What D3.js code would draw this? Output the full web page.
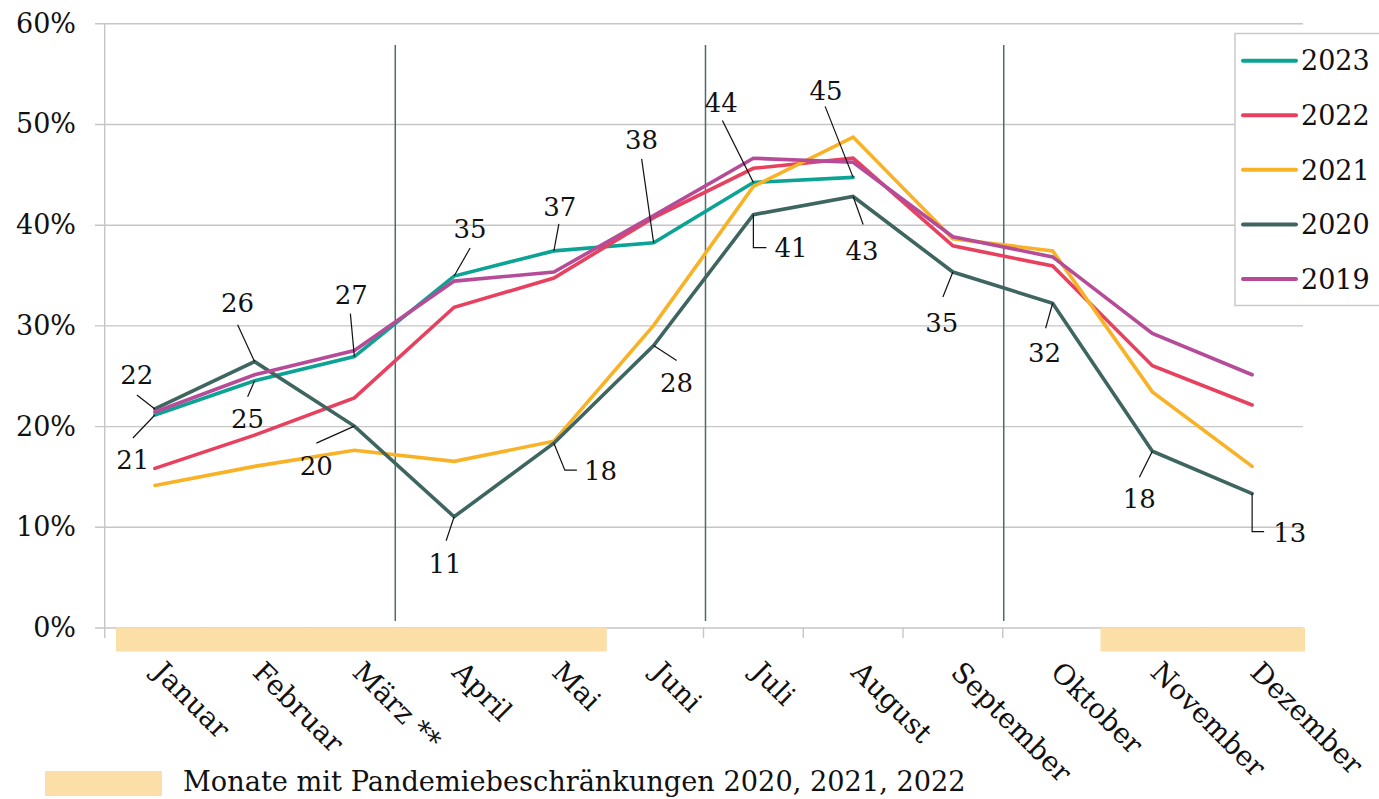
<!DOCTYPE html>
<html>
<head>
<meta charset="utf-8">
<script src="https://cdn.jsdelivr.net/npm/d3@7"></script>
<style>
  body { margin: 0; background: #fff; }
  text { font-family: "DejaVu Serif", serif; fill: #111; }
</style>
</head>
<body>
<div id="chart"></div>
<script>
// months on the x axis
var months = ["Januar", "Februar", "März **", "April", "Mai", "Juni", "Juli",
    "August", "September", "Oktober", "November", "Dezember"];
var years = ["2023", "2022", "2021", "2020", "2019"];
var yTicks = [0, 10, 20, 30, 40, 50, 60];

// values in percent, one array per year
var v2023 = [21.1, 24.5, 26.9, 34.9, 37.4, 38.2, 44.2, 44.7];
var v2022 = [15.8, 19.1, 22.8, 31.8, 34.7, 40.7, 45.6, 46.6, 37.9, 35.9, 26.0, 22.1];
var v2021 = [14.1, 16.0, 17.6, 16.5, 18.5, 30.0, 43.8, 48.7, 38.6, 37.4, 23.4, 16.0];
var v2020 = [21.7, 26.4, 20.0, 11.0, 18.3, 28.0, 41.0, 42.8, 35.3, 32.2, 17.5, 13.3];
var v2019 = [21.4, 25.1, 27.5, 34.4, 35.3, 40.9, 46.6, 46.2, 38.8, 36.8, 29.2, 25.1];

// months with pandemic restrictions (first, last month of each block)
var restricted = [["Januar", "Mai"], ["November", "Dezember"]];
// vertical separators, in month index units
var separators = [2.41, 5.52, 8.51];

// value labels: year, month index, text
var labelYears = ["2020", "2023", "2020", "2023", "2023", "2020", "2023", "2023", "2023", "2023",
    "2023", "2020", "2020", "2020", "2020", "2020", "2020", "2020", "2020", "2020"];
var labelMonths = [0, 0, 1, 1, 2, 2, 3, 4, 5, 6, 7, 7, 6, 5, 4, 3, 8, 9, 10, 11];
var labelTexts = ["22", "21", "26", "25", "27", "20", "35", "37", "38", "44",
    "45", "43", "41", "28", "18", "11", "35", "32", "18", "13"];

// layout of the labels: leader path offsets and text offset
var labelLayout = [
    { path: [[-18, -14]], tx: -18, ty: -25, anchor: "middle" },
    { path: [[-22, 23]], tx: -22, ty: 54, anchor: "middle" },
    { path: [[-17, -37]], tx: -17, ty: -50, anchor: "middle" },
    { path: [[-7, 16]], tx: -7, ty: 47, anchor: "middle" },
    { path: [[-4, -43]], tx: -3, ty: -53, anchor: "middle" },
    { path: [[-38, 17]], tx: -38, ty: 49, anchor: "middle" },
    { path: [[16, -28]], tx: 16, ty: -38, anchor: "middle" },
    { path: [[5, -27]], tx: 6, ty: -35, anchor: "middle" },
    { path: [[-12, -84]], tx: -12, ty: -94, anchor: "middle" },
    { path: [[-31, -62]], tx: -32, ty: -70, anchor: "middle" },
    { path: [[-28, -71]], tx: -27, ty: -77, anchor: "middle" },
    { path: [[10, 28]], tx: 9, ty: 63, anchor: "middle" },
    { path: [[0, 33], [13, 33]], tx: 21, ty: 42, anchor: "start" },
    { path: [[23, 15]], tx: 23, ty: 46, anchor: "middle" },
    { path: [[11, 27], [23, 27]], tx: 30, ty: 37, anchor: "start" },
    { path: [[-8, 24]], tx: -9, ty: 56, anchor: "middle" },
    { path: [[-10, 25]], tx: -11, ty: 60, anchor: "middle" },
    { path: [[-7, 25]], tx: -8, ty: 59, anchor: "middle" },
    { path: [[-13, 26]], tx: -13, ty: 57, anchor: "middle" },
    { path: [[0, 38], [12, 38]], tx: 21, ty: 48, anchor: "start" }
];

var colors = { "2023": "#0ba394", "2022": "#e8415f", "2021": "#f9b225", "2020": "#3e6560", "2019": "#b64b98" };

var seriesData = { "2023": v2023, "2022": v2022, "2021": v2021, "2020": v2020, "2019": v2019 };

var w = 1379, h = 799;

var svg = d3.select("#chart").append("svg")
    .attr("width", w)
    .attr("height", h);

var xScale = d3.scaleBand()
    .domain(months)
    .range([105, 1302]);
var step = xScale.step();
var xc = function(m) { return xScale(m) + xScale.bandwidth() / 2; };

var yScale = d3.scaleLinear()
    .domain([0, 60])
    .range([627.5, 23.3]);

// gridlines
var grid = svg.append("g")
    .attr("transform", "translate(95,0)")
    .call(d3.axisRight(yScale).tickValues(yTicks).tickSize(1208).tickFormat(""));
grid.select(".domain").remove();
grid.selectAll("line").attr("stroke", "#c6c6c6").attr("stroke-width", 1.4);

// y axis line
svg.append("line")
    .attr("x1", 104.7).attr("x2", 104.7)
    .attr("y1", yScale(60)).attr("y2", 638)
    .attr("stroke", "#c6c6c6").attr("stroke-width", 1.4);

// month boundary ticks
svg.selectAll(".mtick")
    .data(months.slice(1))
    .enter().append("line")
    .attr("class", "mtick")
    .attr("x1", function(d) { return xScale(d); })
    .attr("x2", function(d) { return xScale(d); })
    .attr("y1", yScale(0)).attr("y2", 638)
    .attr("stroke", "#c6c6c6").attr("stroke-width", 1.4);

// y tick labels
var yAxis = svg.append("g")
    .attr("transform", "translate(76,0)")
    .call(d3.axisLeft(yScale).tickValues(yTicks).tickSize(0).tickPadding(0)
        .tickFormat(function(d) { return d + "%"; }));
yAxis.select(".domain").remove();
yAxis.selectAll("text")
    .attr("font-family", "DejaVu Serif")
    .attr("font-size", "27px")
    .attr("fill", "#111")
    .attr("dy", "0.33em");

// restriction bands
var bandLeft = function(d) { return Math.max(xScale(d[0]) - 2, 116); };
svg.selectAll(".restr")
    .data(restricted)
    .enter().append("rect")
    .attr("class", "restr")
    .attr("x", bandLeft)
    .attr("width", function(d) { return xScale(d[1]) + xScale.bandwidth() + 3 - bandLeft(d); })
    .attr("y", yScale(0))
    .attr("height", 24)
    .attr("fill", "#fcdfa6");

// vertical separators
svg.selectAll(".sep")
    .data(separators)
    .enter().append("line")
    .attr("class", "sep")
    .attr("x1", function(d) { return xc(months[0]) + d * step; })
    .attr("x2", function(d) { return xc(months[0]) + d * step; })
    .attr("y1", 45).attr("y2", 621)
    .attr("stroke", "#4f6d68").attr("stroke-width", 1.5);

// x labels
var xAxis = svg.append("g")
    .attr("transform", "translate(0," + yScale(0) + ")")
    .call(d3.axisBottom(xScale).tickSize(0).tickPadding(0));
xAxis.select(".domain").remove();
xAxis.selectAll("text")
    .attr("font-family", "DejaVu Serif")
    .attr("font-size", "28px")
    .attr("fill", "#111")
    .attr("text-anchor", "start")
    .attr("x", 0).attr("y", 0)
    .attr("dy", "0.72em")
    .attr("transform", "translate(11,32) rotate(45)");

// lines
var line = d3.line()
    .x(function(d, i) { return xc(months[i]); })
    .y(function(d) { return yScale(d); });

years.forEach(function(yr) {
    svg.append("path")
        .datum(seriesData[yr])
        .attr("d", line)
        .attr("fill", "none")
        .attr("stroke", colors[yr])
        .attr("stroke-width", 3.6)
        .attr("stroke-linecap", "round");
});

// value labels with leaders
labelTexts.forEach(function(t, i) {
    var yr = labelYears[i], mi = labelMonths[i];
    var px = xc(months[mi]), py = yScale(seriesData[yr][mi]);
    var lay = labelLayout[i];
    var pts = [[px, py]].concat(lay.path.map(function(p) { return [px + p[0], py + p[1]]; }));
    svg.append("path")
        .attr("d", d3.line()(pts))
        .attr("fill", "none")
        .attr("stroke", "#111")
        .attr("stroke-width", 1.2);
    svg.append("text")
        .attr("x", px + lay.tx)
        .attr("y", py + lay.ty)
        .attr("text-anchor", lay.anchor)
        .attr("font-size", "26px")
        .text(t);
});

// legend
var legend = svg.append("g");
legend.append("rect")
    .attr("x", 1235).attr("y", 33.5)
    .attr("width", 200).attr("height", 272)
    .attr("fill", "#fff")
    .attr("stroke", "#c6c6c6").attr("stroke-width", 1.4);
var legY = d3.scalePoint().domain(years).range([60.7, 279]);
years.forEach(function(yr) {
    legend.append("line")
        .attr("x1", 1243).attr("x2", 1296)
        .attr("y1", legY(yr)).attr("y2", legY(yr))
        .attr("stroke", colors[yr])
        .attr("stroke-width", 4)
        .attr("stroke-linecap", "round");
    legend.append("text")
        .attr("x", 1301)
        .attr("y", legY(yr))
        .attr("dy", "0.36em")
        .attr("font-size", "27px")
        .text(yr);
});

// bottom legend
svg.append("rect")
    .attr("x", 45).attr("y", 771)
    .attr("width", 117).attr("height", 25)
    .attr("fill", "#fcdfa6");
svg.append("text")
    .attr("x", 183).attr("y", 791)
    .attr("font-size", "27.2px")
    .text("Monate mit Pandemiebeschränkungen 2020, 2021, 2022");
</script>
</body>
</html>
